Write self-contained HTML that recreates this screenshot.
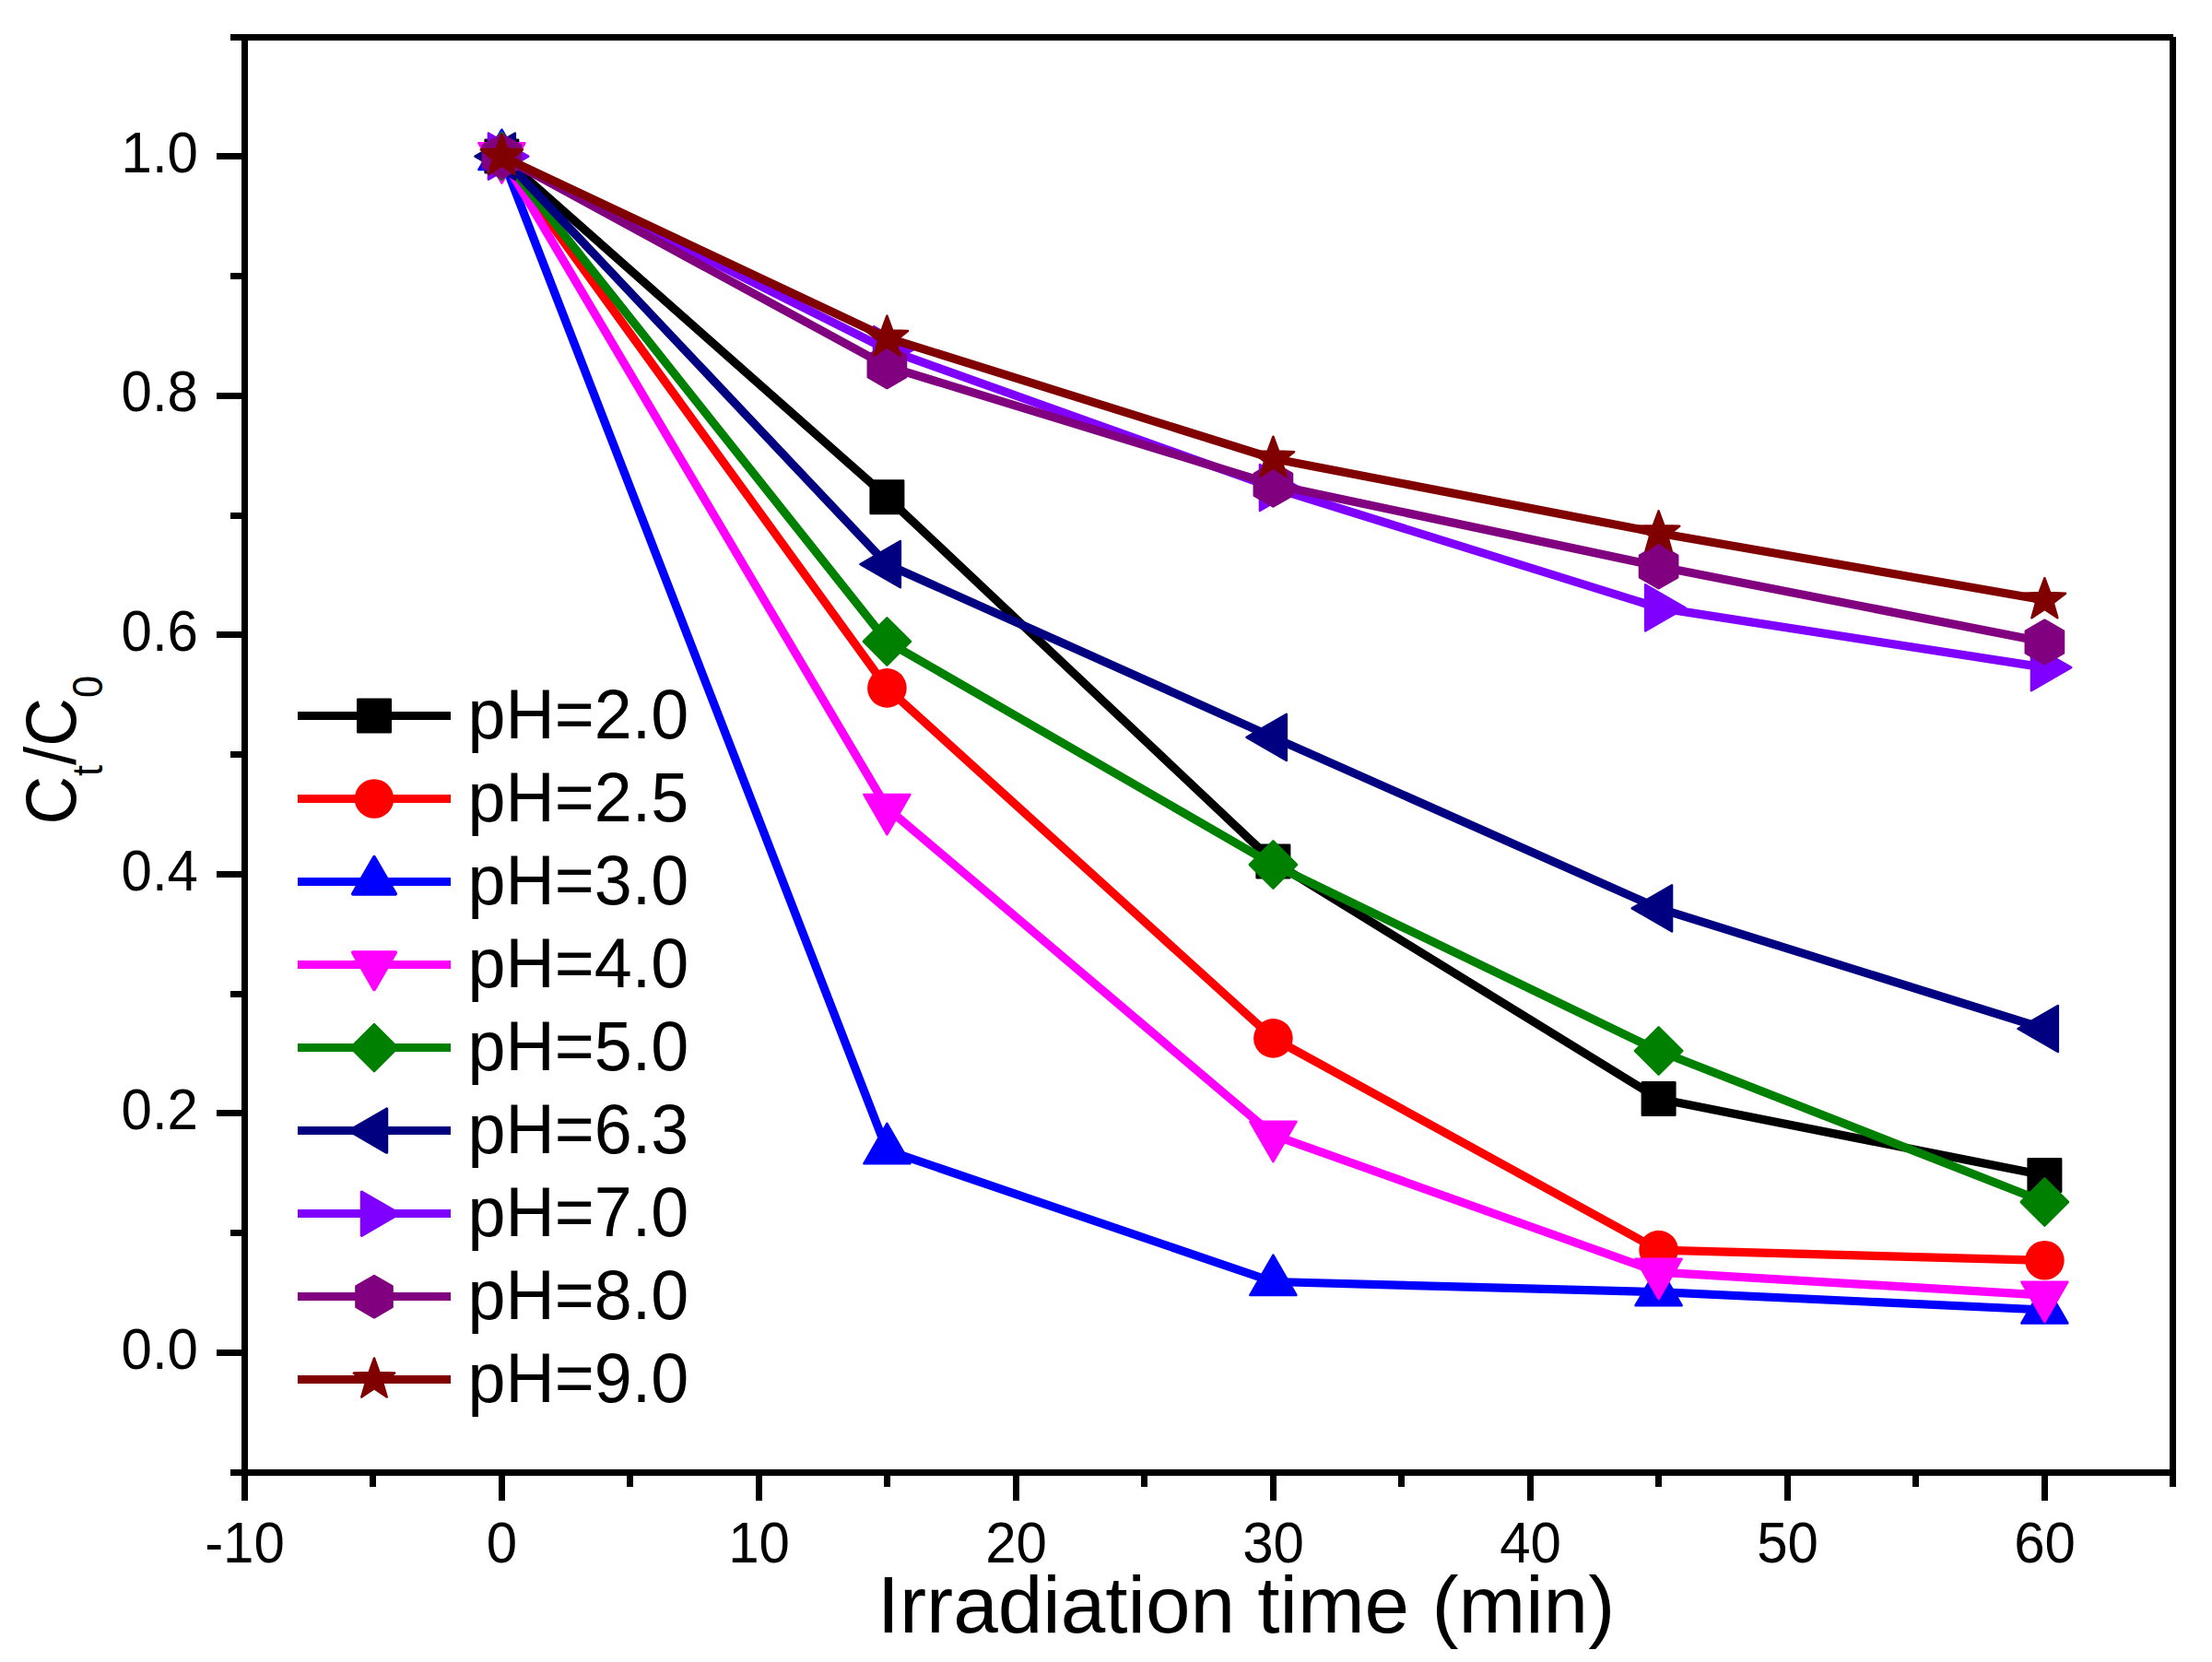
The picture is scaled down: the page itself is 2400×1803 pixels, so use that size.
<!DOCTYPE html>
<html lang="en"><head><meta charset="utf-8"><title>Ct/C0 vs irradiation time</title>
<style>
html,body{margin:0;padding:0;background:#fff;}
body{width:2400px;height:1803px;overflow:hidden;}
svg{display:block;}
text{font-family:"Liberation Sans",Arial,Helvetica,sans-serif;fill:#000;}
.tk{font-size:60px;}
.lg{font-size:73.7px;}
</style></head><body>
<svg width="2400" height="1803" viewBox="0 0 2400 1803">
<rect x="0" y="0" width="2400" height="1803" fill="#ffffff"/>
<g id="series" fill="none" stroke-linecap="butt" stroke-linejoin="round">
<g>
<polyline points="544.4,169.6 962.4,539.3 1381.4,934.6 1799.6,1192 2218.4,1275.1" stroke="#000000" stroke-width="9.2" fill="none"/>
<rect x="526.65" y="151.85" width="35.5" height="35.5" fill="#000000" stroke="#000000" stroke-width="2.5" stroke-linejoin="round"/>
<rect x="944.65" y="521.55" width="35.5" height="35.5" fill="#000000" stroke="#000000" stroke-width="2.5" stroke-linejoin="round"/>
<rect x="1363.65" y="916.85" width="35.5" height="35.5" fill="#000000" stroke="#000000" stroke-width="2.5" stroke-linejoin="round"/>
<rect x="1781.85" y="1174.25" width="35.5" height="35.5" fill="#000000" stroke="#000000" stroke-width="2.5" stroke-linejoin="round"/>
<rect x="2200.65" y="1257.35" width="35.5" height="35.5" fill="#000000" stroke="#000000" stroke-width="2.5" stroke-linejoin="round"/>
</g>
<g>
<polyline points="544.4,169.6 962.4,746.4 1381.4,1126.4 1799.6,1356.1 2218.4,1367.3" stroke="#ff0000" stroke-width="9.2" fill="none"/>
<circle cx="544.4" cy="169.6" r="21.3" fill="#ff0000"/>
<circle cx="962.4" cy="746.4" r="21.3" fill="#ff0000"/>
<circle cx="1381.4" cy="1126.4" r="21.3" fill="#ff0000"/>
<circle cx="1799.6" cy="1356.1" r="21.3" fill="#ff0000"/>
<circle cx="2218.4" cy="1367.3" r="21.3" fill="#ff0000"/>
</g>
<g>
<polyline points="544.4,169.6 962.4,1247.8 1381.4,1390.5 1799.6,1401.7 2218.4,1421" stroke="#0000ff" stroke-width="9.2" fill="none"/>
<polygon points="544.4,140.7 569.43,184.05 519.37,184.05" fill="#0000ff" stroke="#0000ff" stroke-width="2.5" stroke-linejoin="round"/>
<polygon points="962.4,1218.9 987.43,1262.25 937.37,1262.25" fill="#0000ff" stroke="#0000ff" stroke-width="2.5" stroke-linejoin="round"/>
<polygon points="1381.4,1361.6 1406.43,1404.95 1356.37,1404.95" fill="#0000ff" stroke="#0000ff" stroke-width="2.5" stroke-linejoin="round"/>
<polygon points="1799.6,1372.8 1824.63,1416.15 1774.57,1416.15" fill="#0000ff" stroke="#0000ff" stroke-width="2.5" stroke-linejoin="round"/>
<polygon points="2218.4,1392.1 2243.43,1435.45 2193.37,1435.45" fill="#0000ff" stroke="#0000ff" stroke-width="2.5" stroke-linejoin="round"/>
</g>
<g>
<polyline points="544.4,169.6 962.4,876.4 1381.4,1231.3 1799.6,1380.1 2218.4,1405.1" stroke="#ff00ff" stroke-width="9.2" fill="none"/>
<polygon points="544.4,198.5 519.37,155.15 569.43,155.15" fill="#ff00ff" stroke="#ff00ff" stroke-width="2.5" stroke-linejoin="round"/>
<polygon points="962.4,905.3 937.37,861.95 987.43,861.95" fill="#ff00ff" stroke="#ff00ff" stroke-width="2.5" stroke-linejoin="round"/>
<polygon points="1381.4,1260.2 1356.37,1216.85 1406.43,1216.85" fill="#ff00ff" stroke="#ff00ff" stroke-width="2.5" stroke-linejoin="round"/>
<polygon points="1799.6,1409 1774.57,1365.65 1824.63,1365.65" fill="#ff00ff" stroke="#ff00ff" stroke-width="2.5" stroke-linejoin="round"/>
<polygon points="2218.4,1434 2193.37,1390.65 2243.43,1390.65" fill="#ff00ff" stroke="#ff00ff" stroke-width="2.5" stroke-linejoin="round"/>
</g>
<g>
<polyline points="544.4,169.6 962.4,695.9 1381.4,938 1799.6,1140 2218.4,1304" stroke="#008000" stroke-width="9.2" fill="none"/>
<polygon points="544.4,144 570,169.6 544.4,195.2 518.8,169.6" fill="#008000" stroke="#008000" stroke-width="2.5" stroke-linejoin="round"/>
<polygon points="962.4,670.3 988,695.9 962.4,721.5 936.8,695.9" fill="#008000" stroke="#008000" stroke-width="2.5" stroke-linejoin="round"/>
<polygon points="1381.4,912.4 1407,938 1381.4,963.6 1355.8,938" fill="#008000" stroke="#008000" stroke-width="2.5" stroke-linejoin="round"/>
<polygon points="1799.6,1114.4 1825.2,1140 1799.6,1165.6 1774,1140" fill="#008000" stroke="#008000" stroke-width="2.5" stroke-linejoin="round"/>
<polygon points="2218.4,1278.4 2244,1304 2218.4,1329.6 2192.8,1304" fill="#008000" stroke="#008000" stroke-width="2.5" stroke-linejoin="round"/>
</g>
<g>
<polyline points="544.4,169.6 962.4,612.2 1381.4,799.9 1799.6,985.4 2218.4,1116" stroke="#000080" stroke-width="9.2" fill="none"/>
<polygon points="515.5,169.6 558.85,144.57 558.85,194.63" fill="#000080" stroke="#000080" stroke-width="2.5" stroke-linejoin="round"/>
<polygon points="933.5,612.2 976.85,587.17 976.85,637.23" fill="#000080" stroke="#000080" stroke-width="2.5" stroke-linejoin="round"/>
<polygon points="1352.5,799.9 1395.85,774.87 1395.85,824.93" fill="#000080" stroke="#000080" stroke-width="2.5" stroke-linejoin="round"/>
<polygon points="1770.7,985.4 1814.05,960.37 1814.05,1010.43" fill="#000080" stroke="#000080" stroke-width="2.5" stroke-linejoin="round"/>
<polygon points="2189.5,1116 2232.85,1090.97 2232.85,1141.03" fill="#000080" stroke="#000080" stroke-width="2.5" stroke-linejoin="round"/>
</g>
<g>
<polyline points="544.4,169.6 962.4,379.2 1381.4,529 1799.6,659.4 2218.4,724.1" stroke="#8000ff" stroke-width="9.2" fill="none"/>
<polygon points="573.3,169.6 529.95,194.63 529.95,144.57" fill="#8000ff" stroke="#8000ff" stroke-width="2.5" stroke-linejoin="round"/>
<polygon points="991.3,379.2 947.95,404.23 947.95,354.17" fill="#8000ff" stroke="#8000ff" stroke-width="2.5" stroke-linejoin="round"/>
<polygon points="1410.3,529 1366.95,554.03 1366.95,503.97" fill="#8000ff" stroke="#8000ff" stroke-width="2.5" stroke-linejoin="round"/>
<polygon points="1828.5,659.4 1785.15,684.43 1785.15,634.37" fill="#8000ff" stroke="#8000ff" stroke-width="2.5" stroke-linejoin="round"/>
<polygon points="2247.3,724.1 2203.95,749.13 2203.95,699.07" fill="#8000ff" stroke="#8000ff" stroke-width="2.5" stroke-linejoin="round"/>
</g>
<g>
<polyline points="544.4,169.6 962.4,397.3 1381.4,525.7 1799.6,614.4 2218.4,696.5" stroke="#800080" stroke-width="9.2" fill="none"/>
<polygon points="544.4,145.8 565.01,157.7 565.01,181.5 544.4,193.4 523.79,181.5 523.79,157.7" fill="#800080" stroke="#800080" stroke-width="2.5" stroke-linejoin="round"/>
<polygon points="962.4,373.5 983.01,385.4 983.01,409.2 962.4,421.1 941.79,409.2 941.79,385.4" fill="#800080" stroke="#800080" stroke-width="2.5" stroke-linejoin="round"/>
<polygon points="1381.4,501.9 1402.01,513.8 1402.01,537.6 1381.4,549.5 1360.79,537.6 1360.79,513.8" fill="#800080" stroke="#800080" stroke-width="2.5" stroke-linejoin="round"/>
<polygon points="1799.6,590.6 1820.21,602.5 1820.21,626.3 1799.6,638.2 1778.99,626.3 1778.99,602.5" fill="#800080" stroke="#800080" stroke-width="2.5" stroke-linejoin="round"/>
<polygon points="2218.4,672.7 2239.01,684.6 2239.01,708.4 2218.4,720.3 2197.79,708.4 2197.79,684.6" fill="#800080" stroke="#800080" stroke-width="2.5" stroke-linejoin="round"/>
</g>
<g>
<polyline points="544.4,169.6 962.4,366.4 1381.4,497.5 1799.6,578.2 2218.4,651" stroke="#800000" stroke-width="9.2" fill="none"/>
<polygon points="544.4,145.8 550.22,161.59 567.04,162.25 553.82,172.66 558.39,188.85 544.4,179.5 530.41,188.85 534.98,172.66 521.76,162.25 538.58,161.59" fill="#800000" stroke="#800000" stroke-width="2.5" stroke-linejoin="round"/>
<polygon points="962.4,342.6 968.22,358.39 985.04,359.05 971.82,369.46 976.39,385.65 962.4,376.3 948.41,385.65 952.98,369.46 939.76,359.05 956.58,358.39" fill="#800000" stroke="#800000" stroke-width="2.5" stroke-linejoin="round"/>
<polygon points="1381.4,473.7 1387.22,489.49 1404.04,490.15 1390.82,500.56 1395.39,516.75 1381.4,507.4 1367.41,516.75 1371.98,500.56 1358.76,490.15 1375.58,489.49" fill="#800000" stroke="#800000" stroke-width="2.5" stroke-linejoin="round"/>
<polygon points="1799.6,554.4 1805.42,570.19 1822.24,570.85 1809.02,581.26 1813.59,597.45 1799.6,588.1 1785.61,597.45 1790.18,581.26 1776.96,570.85 1793.78,570.19" fill="#800000" stroke="#800000" stroke-width="2.5" stroke-linejoin="round"/>
<polygon points="2218.4,627.2 2224.22,642.99 2241.04,643.65 2227.82,654.06 2232.39,670.25 2218.4,660.9 2204.41,670.25 2208.98,654.06 2195.76,643.65 2212.58,642.99" fill="#800000" stroke="#800000" stroke-width="2.5" stroke-linejoin="round"/>
</g>
</g>
<g id="axes" fill="#000" shape-rendering="crispEdges">
<rect x="250" y="37" width="2108" height="7"/>
<rect x="250" y="1594" width="2108" height="7"/>
<rect x="262" y="37" width="7" height="1591"/>
<rect x="2354" y="40" width="7" height="1573"/>
<rect x="235" y="1464" width="30" height="7"/>
<rect x="250" y="1334" width="15" height="7"/>
<rect x="235" y="1204" width="30" height="7"/>
<rect x="250" y="1075" width="15" height="7"/>
<rect x="235" y="945" width="30" height="7"/>
<rect x="250" y="815" width="15" height="7"/>
<rect x="235" y="685" width="30" height="7"/>
<rect x="250" y="556" width="15" height="7"/>
<rect x="235" y="426" width="30" height="7"/>
<rect x="250" y="296" width="15" height="7"/>
<rect x="235" y="166" width="30" height="7"/>
<rect x="401" y="1598" width="7" height="15"/>
<rect x="541" y="1598" width="7" height="30"/>
<rect x="680" y="1598" width="7" height="15"/>
<rect x="820" y="1598" width="7" height="30"/>
<rect x="959" y="1598" width="7" height="15"/>
<rect x="1099" y="1598" width="7" height="30"/>
<rect x="1238" y="1598" width="7" height="15"/>
<rect x="1378" y="1598" width="7" height="30"/>
<rect x="1517" y="1598" width="7" height="15"/>
<rect x="1657" y="1598" width="7" height="30"/>
<rect x="1796" y="1598" width="7" height="15"/>
<rect x="1936" y="1598" width="7" height="30"/>
<rect x="2075" y="1598" width="7" height="15"/>
<rect x="2215" y="1598" width="7" height="30"/>
</g>
<g id="ticklabels" class="tk">
<text transform="translate(215 1485.1) scale(1 1.04)" text-anchor="end">0.0</text>
<text transform="translate(215 1225.38) scale(1 1.04)" text-anchor="end">0.2</text>
<text transform="translate(215 965.66) scale(1 1.04)" text-anchor="end">0.4</text>
<text transform="translate(215 705.94) scale(1 1.04)" text-anchor="end">0.6</text>
<text transform="translate(215 446.22) scale(1 1.04)" text-anchor="end">0.8</text>
<text transform="translate(215 186.5) scale(1 1.04)" text-anchor="end">1.0</text>
<text transform="translate(265.5 1695.2) scale(1 1.04)" text-anchor="middle">-10</text>
<text transform="translate(544.5 1695.2) scale(1 1.04)" text-anchor="middle">0</text>
<text transform="translate(823.5 1695.2) scale(1 1.04)" text-anchor="middle">10</text>
<text transform="translate(1102.5 1695.2) scale(1 1.04)" text-anchor="middle">20</text>
<text transform="translate(1381.5 1695.2) scale(1 1.04)" text-anchor="middle">30</text>
<text transform="translate(1660.5 1695.2) scale(1 1.04)" text-anchor="middle">40</text>
<text transform="translate(1939.5 1695.2) scale(1 1.04)" text-anchor="middle">50</text>
<text transform="translate(2218.5 1695.2) scale(1 1.04)" text-anchor="middle">60</text>
</g>
<text transform="translate(951.8 1771)" font-size="87.3">Irradiation time (min)</text>
<text transform="translate(82.2 894.6) rotate(-90) scale(0.985 1.04)" font-size="74">C<tspan font-size="44" dy="27.2">t</tspan><tspan dy="-27.2">/C</tspan><tspan font-size="44" dy="27.2">0</tspan></text>
<g id="legend">
<rect x="323" y="772" width="166" height="9" fill="#000000" shape-rendering="crispEdges"/>
<rect x="388.25" y="758.75" width="35.5" height="35.5" fill="#000000" stroke="#000000" stroke-width="2.5" stroke-linejoin="round"/>
<text class="lg" transform="translate(507.6 800.9) scale(1 1.035)">pH=2.0</text>
<rect x="323" y="862" width="166" height="9" fill="#ff0000" shape-rendering="crispEdges"/>
<circle cx="406" cy="866.53" r="21.3" fill="#ff0000"/>
<text class="lg" transform="translate(507.6 890.93) scale(1 1.035)">pH=2.5</text>
<rect x="323" y="952" width="166" height="9" fill="#0000ff" shape-rendering="crispEdges"/>
<polygon points="406,929.96 429.04,969.86 382.96,969.86" fill="#0000ff" stroke="#0000ff" stroke-width="4" stroke-linejoin="round"/>
<text class="lg" transform="translate(507.6 980.96) scale(1 1.035)">pH=3.0</text>
<rect x="323" y="1042" width="166" height="9" fill="#ff00ff" shape-rendering="crispEdges"/>
<polygon points="406,1073.19 382.96,1033.29 429.04,1033.29" fill="#ff00ff" stroke="#ff00ff" stroke-width="4" stroke-linejoin="round"/>
<text class="lg" transform="translate(507.6 1070.99) scale(1 1.035)">pH=4.0</text>
<rect x="323" y="1132" width="166" height="9" fill="#008000" shape-rendering="crispEdges"/>
<polygon points="406,1111.02 431.6,1136.62 406,1162.22 380.4,1136.62" fill="#008000" stroke="#008000" stroke-width="2.5" stroke-linejoin="round"/>
<text class="lg" transform="translate(507.6 1161.02) scale(1 1.035)">pH=5.0</text>
<rect x="323" y="1222" width="166" height="9" fill="#000080" shape-rendering="crispEdges"/>
<polygon points="378.8,1226.65 419.6,1203.09 419.6,1250.21" fill="#000080" stroke="#000080" stroke-width="3.3" stroke-linejoin="round"/>
<text class="lg" transform="translate(507.6 1251.05) scale(1 1.035)">pH=6.3</text>
<rect x="323" y="1312" width="166" height="9" fill="#8000ff" shape-rendering="crispEdges"/>
<polygon points="433.2,1316.68 392.4,1340.24 392.4,1293.12" fill="#8000ff" stroke="#8000ff" stroke-width="3.3" stroke-linejoin="round"/>
<text class="lg" transform="translate(507.6 1341.08) scale(1 1.035)">pH=7.0</text>
<rect x="323" y="1402" width="166" height="9" fill="#800080" shape-rendering="crispEdges"/>
<polygon points="406,1384.11 425.57,1395.41 425.57,1418.01 406,1429.31 386.43,1418.01 386.43,1395.41" fill="#800080" stroke="#800080" stroke-width="2.5" stroke-linejoin="round"/>
<text class="lg" transform="translate(507.6 1431.11) scale(1 1.035)">pH=8.0</text>
<rect x="323" y="1492" width="166" height="9" fill="#800000" shape-rendering="crispEdges"/>
<polygon points="406,1473.44 411.58,1489.05 428.16,1489.54 415.04,1499.68 419.7,1515.59 406,1506.24 392.3,1515.59 396.96,1499.68 383.84,1489.54 400.42,1489.05" fill="#800000" stroke="#800000" stroke-width="2.5" stroke-linejoin="round"/>
<text class="lg" transform="translate(507.6 1521.14) scale(1 1.035)">pH=9.0</text>
</g>
</svg></body></html>
